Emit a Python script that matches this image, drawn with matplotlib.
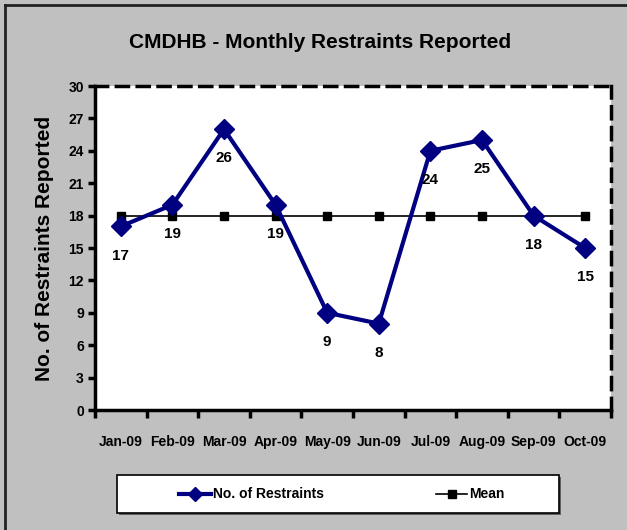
import matplotlib
matplotlib.use("Agg")
import matplotlib.pyplot as plt
from matplotlib.lines import Line2D
from matplotlib.patches import Rectangle
import numpy as np

months = ["Jan-09", "Feb-09", "Mar-09", "Apr-09", "May-09", "Jun-09",
          "Jul-09", "Aug-09", "Sep-09", "Oct-09"]
restraints = [17, 19, 26, 19, 9, 8, 24, 25, 18, 15]
mean_vals = [18, 18, 18, 18, 18, 18, 18, 18, 18, 18]
yticks = [0, 3, 6, 9, 12, 15, 18, 21, 24, 27, 30]
series_names = ["No. of Restraints", "Mean"]

plt.rcParams['font.family'] = ['Liberation Sans', 'DejaVu Sans']
plt.rcParams['font.weight'] = 'bold'

W, H = 627, 530
fig = plt.figure(figsize=(W/100, H/100), dpi=100, facecolor='#C0C0C0')

def fx(px):
    return px / W

def fy(py):
    return 1 - py / H

# figure border (top and left visible)
fig.add_artist(Line2D([fx(5), 1.0], [fy(5), fy(5)], color='#222222', lw=2, transform=fig.transFigure))
fig.add_artist(Line2D([fx(5), fx(5)], [fy(5), 0.0], color='#222222', lw=2, transform=fig.transFigure))

L, R, T, B = 95, 611, 86, 410
ax = fig.add_axes([fx(L), fy(B), (R-L)/W, (B-T)/H])
ax.set_facecolor('white')

x = np.arange(len(months))
navy = '#000080'
ax.plot(x, mean_vals, color='black', lw=1.2, marker='s', ms=5.5, zorder=2)
ax.plot(x, restraints, color=navy, lw=3, marker='D', ms=10, zorder=3)

for xi, v in zip(x, restraints):
    ax.annotate(str(v), (xi, v), xytext=(0, -21), textcoords='offset points',
                ha='center', va='center', fontsize=11, fontweight='bold')

ax.set_xlim(-0.5, len(months) - 0.5)
ax.set_ylim(0, 30)
ax.set_yticks(yticks)
ax.set_yticklabels([str(t) for t in yticks], fontsize=10, fontweight='bold')
ax.set_xticks(x)
ax.set_xticklabels(months, fontsize=10, fontweight='bold')
ax.set_xticks(np.arange(-0.5, len(months)), minor=True)
ax.tick_params(axis='x', which='major', length=0, pad=18)
ax.tick_params(axis='x', which='minor', length=6, width=2.5, direction='out')
ax.tick_params(axis='y', length=5, width=2.5, direction='out', pad=3)

for s in ['left', 'bottom']:
    ax.spines[s].set_linewidth(2.5)
for s in ['top', 'right']:
    ax.spines[s].set_linewidth(2.5)
    ax.spines[s].set_linestyle((0, (3.5, 2.5)))

ax.set_ylabel("No. of Restraints Reported", fontsize=15, fontweight='bold', labelpad=10)

fig.text(fx(320), fy(42), "CMDHB - Monthly Restraints Reported", ha='center', va='center',
         fontsize=15, fontweight='bold')

# legend box
lx0, lx1, ly0, ly1 = 117, 559, 475, 513
fig.add_artist(Rectangle((fx(lx0 + 2), fy(ly1 + 2)), (lx1 - lx0)/W, (ly1 - ly0)/H,
                         transform=fig.transFigure, facecolor='#606060', edgecolor='none'))
fig.add_artist(Rectangle((fx(lx0), fy(ly1)), (lx1 - lx0)/W, (ly1 - ly0)/H,
                         transform=fig.transFigure, facecolor='white', edgecolor='black', lw=1.2))
ly = fy(494)
fig.add_artist(Line2D([fx(179), fx(211)], [ly, ly], color=navy, lw=3, transform=fig.transFigure))
fig.add_artist(Line2D([fx(195)], [ly], color=navy, marker='D', ms=7, lw=0, transform=fig.transFigure))
fig.text(fx(213), ly, series_names[0], ha='left', va='center', fontsize=10, fontweight='bold')
fig.add_artist(Line2D([fx(436), fx(467)], [ly, ly], color='black', lw=1.2, transform=fig.transFigure))
fig.add_artist(Line2D([fx(451.5)], [ly], color='black', marker='s', ms=5.5, lw=0, transform=fig.transFigure))
fig.text(fx(469), ly, series_names[1], ha='left', va='center', fontsize=10, fontweight='bold')

fig.savefig("out.png", dpi=100, facecolor=fig.get_facecolor())
